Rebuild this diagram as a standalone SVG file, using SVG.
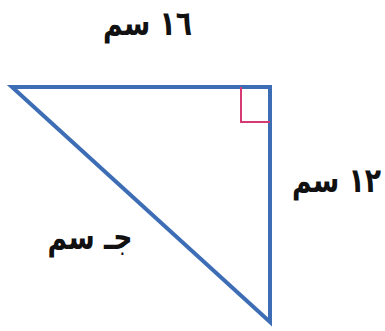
<svg xmlns="http://www.w3.org/2000/svg" width="385" height="331" viewBox="0 0 385 331">
<style>
.lbl{font-family:"DejaVu Sans",sans-serif;font-weight:bold;font-size:30px;fill:#111;text-anchor:middle}
.side{fill:none;stroke:#3d6db5;stroke-width:4;stroke-linejoin:miter}
</style>
<rect width="385" height="331" fill="#fff"/>
<g id="triangle">
<path class="side" d="M12 87 L270 87 L270 322 Z"/>
<path d="M241 87 L241 122 L270 122" fill="none" stroke="#d63a72" stroke-width="2"/>
</g>
<g id="label-top"><text class="lbl" transform="translate(147.5,35) scale(0.89,1.13)">١٦ سم</text></g>
<g id="label-right"><text class="lbl" transform="translate(336.5,192) scale(0.89,1.13)">١٢ سم</text></g>
<g id="label-hyp"><text class="lbl" transform="translate(90,249) scale(0.89,1.13)">جـ سم</text></g>
</svg>
